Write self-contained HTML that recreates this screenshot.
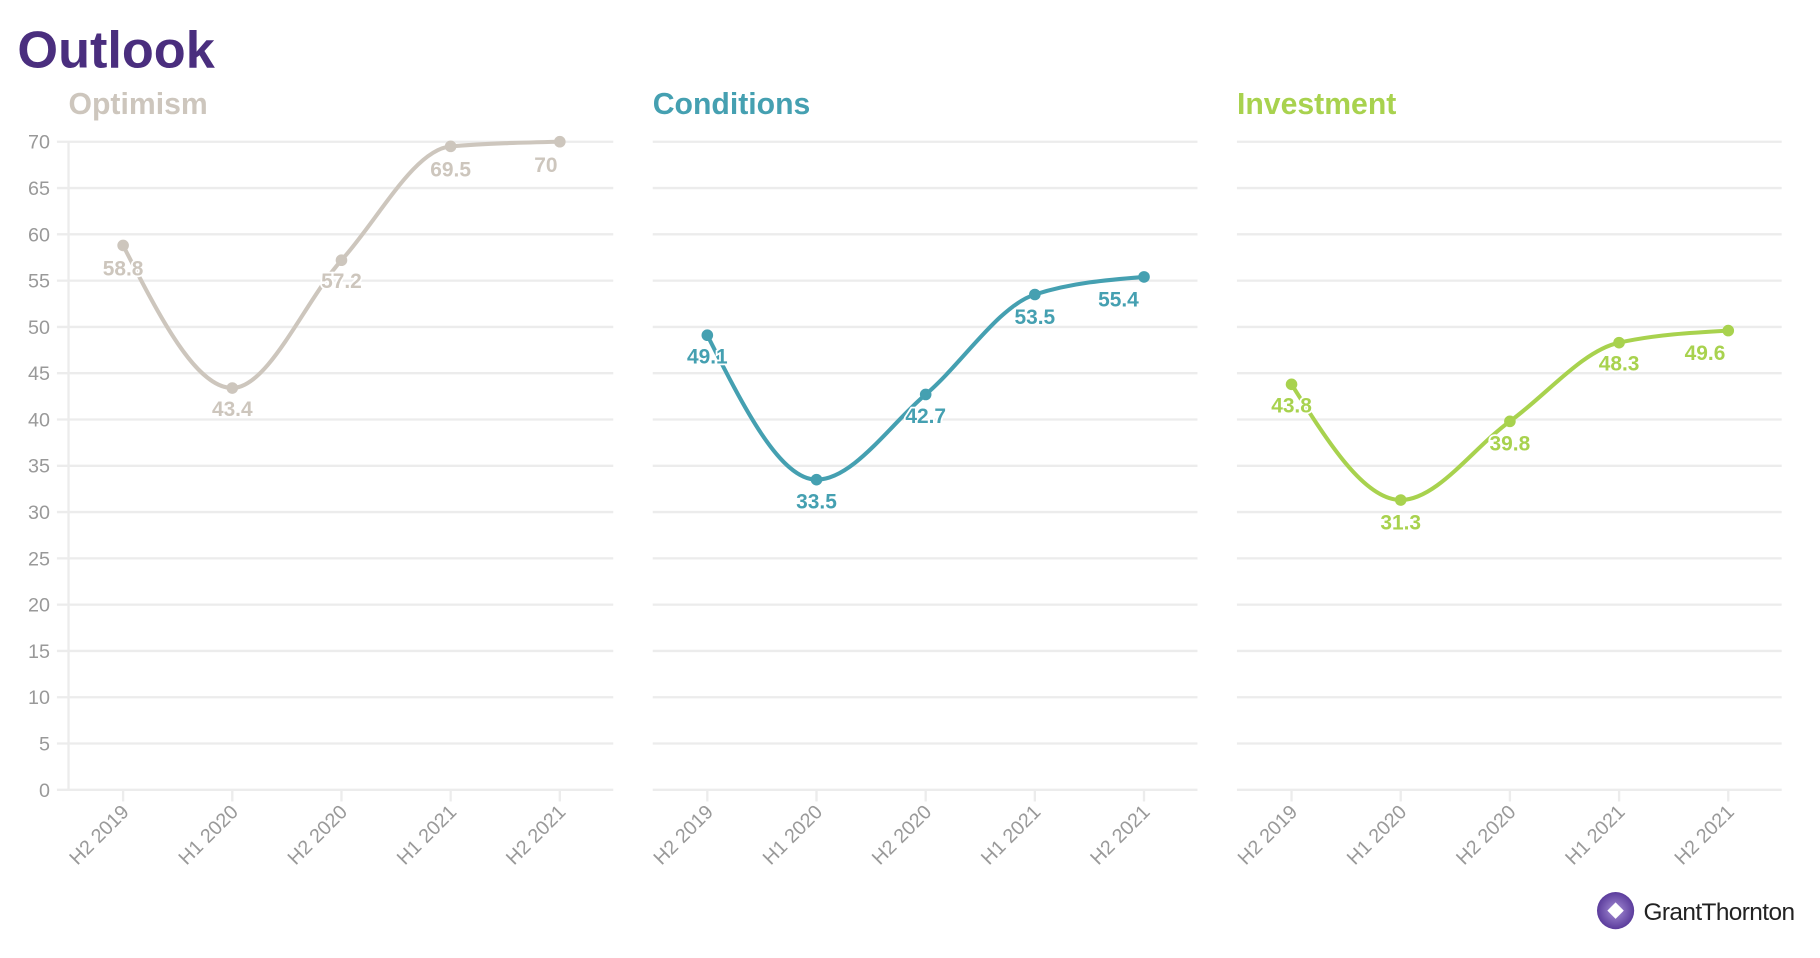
<!DOCTYPE html>
<html><head><meta charset="utf-8"><style>
html,body{margin:0;padding:0;background:#fff;}
svg{display:block;font-family:"Liberation Sans",sans-serif;}
</style></head><body>
<svg id="s" width="1820" height="958" viewBox="0 0 1567 824.8" preserveAspectRatio="none" xmlns="http://www.w3.org/2000/svg">
<text x="15" y="58" font-size="45" font-weight="bold" fill="#4a2e7e">Outlook</text>
<g id="g"></g>
<defs><radialGradient id="lg" cx="50%" cy="50%" r="50%"><stop offset="0" stop-color="#a68fd6"/><stop offset="1" stop-color="#5b3c9c"/></radialGradient></defs>
<circle cx="1391" cy="784" r="16" fill="url(#lg)"/>
<rect x="1386" y="779" width="10" height="10" fill="#fff" transform="rotate(45 1391 784)"/>
<text x="1415" y="792" font-size="21" fill="#222" letter-spacing="-0.5">GrantThornton</text>
</svg>
<script>
var g=document.getElementById('g'),h='';
function Y(v){return 680-v*7.971;}
var panels=[
 {x0:59,title:'Optimism',c:'#cdc6bd',d:[58.8,43.4,57.2,69.5,70],lab:[[106,231],[200,352],[294,242],[388,146],[470,142]],yl:true},
 {x0:562,title:'Conditions',c:'#45a0b1',d:[49.1,33.5,42.7,53.5,55.4],lab:[[609,307],[703,432],[797,358],[891,273],[963,258]]},
 {x0:1065,title:'Investment',c:'#a8d24e',d:[43.8,31.3,39.8,48.3,49.6],lab:[[1112,349],[1206,450],[1300,382],[1394,313],[1468,304]]}];
var cats=['H2 2019','H1 2020','H2 2020','H1 2021','H2 2021'];
function mono(xs,ys){var n=xs.length,dx=[],m=[],t=[];for(var i=0;i<n-1;i++){dx[i]=xs[i+1]-xs[i];m[i]=(ys[i+1]-ys[i])/dx[i];}
t[0]=m[0];t[n-1]=m[n-2];for(i=1;i<n-1;i++){if(m[i-1]*m[i]<=0)t[i]=0;else{var p=(m[i-1]*dx[i]+m[i]*dx[i-1])/(dx[i-1]+dx[i]);t[i]=(Math.sign(m[i-1])+Math.sign(m[i]))*Math.min(Math.abs(m[i-1]),Math.abs(m[i]),0.5*Math.abs(p));}}
t[0]=(3*m[0]-t[1])/2;t[n-1]=(3*m[n-2]-t[n-2])/2;
var s='M'+xs[0]+','+ys[0];for(i=0;i<n-1;i++){var d=dx[i]/3;s+='C'+(xs[i]+d)+','+(ys[i]+t[i]*d)+' '+(xs[i+1]-d)+','+(ys[i+1]-t[i+1]*d)+' '+xs[i+1]+','+ys[i+1];}return s;}
panels.forEach(function(p){
 var x0=p.x0,x1=x0+469;
 h+='<text x="'+x0+'" y="98" font-size="26" font-weight="bold" fill="'+p.c+'">'+p.title+'</text>';
 for(var v=0;v<=70;v+=5){var y=Y(v);h+='<line x1="'+(p.yl?x0-10:x0)+'" x2="'+x1+'" y1="'+y+'" y2="'+y+'" stroke="#ececec" stroke-width="2"/>';
  if(p.yl)h+='<text x="43" y="'+(y+6)+'" font-size="17" fill="#999" text-anchor="end">'+v+'</text>';}
 if(p.yl)h+='<line x1="'+x0+'" x2="'+x0+'" y1="122" y2="680" stroke="#ececec" stroke-width="2"/>';
 var xs=[],ys=[];
 for(var i=0;i<5;i++){var x=x0+47+94*i;xs.push(x);ys.push(Y(p.d[i]));
  h+='<line x1="'+x+'" x2="'+x+'" y1="680" y2="690" stroke="#ececec" stroke-width="2"/>';
  h+='<text transform="translate('+(x+6)+',700) rotate(-45)" font-size="17" fill="#999" text-anchor="end">'+cats[i]+'</text>';}
 h+='<path d="'+mono(xs,ys)+'" fill="none" stroke="'+p.c+'" stroke-width="3.5"/>';
 for(i=0;i<5;i++){h+='<circle cx="'+xs[i]+'" cy="'+ys[i]+'" r="5" fill="'+p.c+'"/>';}
 for(i=0;i<5;i++){var l=p.lab[i];h+='<text x="'+l[0]+'" y="'+(l[1]+6)+'" font-size="18" font-weight="bold" fill="'+p.c+'" text-anchor="middle" stroke="#fff" stroke-width="3" paint-order="stroke">'+p.d[i]+'</text>';}
});
g.innerHTML=h;
</script>
</body></html>
